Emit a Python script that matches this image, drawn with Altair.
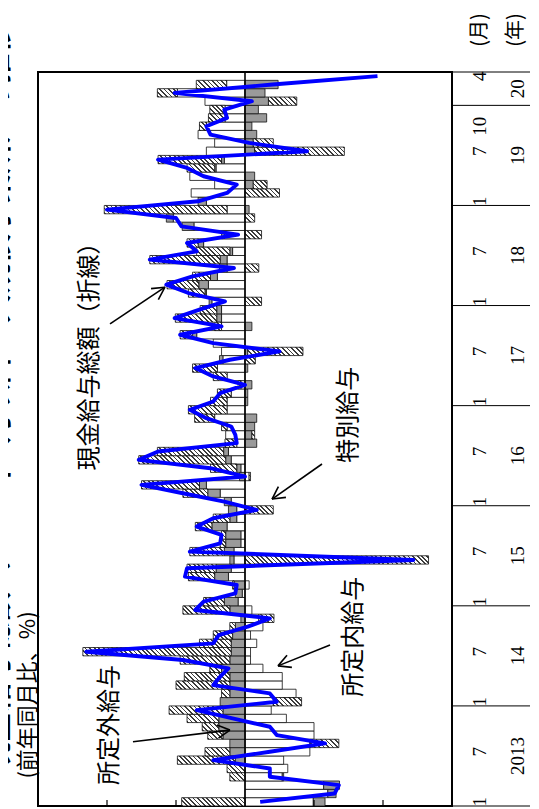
import math
import altair as alt
import pandas as pd

# ---------------- data (前年同月比, %, 寄与度) 2013-01 ... 2020-04 ----------------
# 所定内給与 contribution
W_vals = [
    -4.95, -6.0, -5.7, -2.7, -3.1, -2.8, -4.7, -4.7, -5.0, -5.0, -3.0, -1.9,   # 2013
    -2.05, -3.7, -2.7, -2.7, -1.3, -0.4, -0.4, -0.85, -0.4, -1.3, -1.0, -0.5,  # 2014
    0.5, 0.2, -0.3, 1.2, 1.0, 0.8, 0.8, 0.3, 0.3, 1.3, 0.6, 0.6,               # 2015
    1.0, 1.8, 2.8, -0.3, 0.3, 1.0, 1.2, 0.6, 1.4, 1.3, 2.2, 1.3,               # 2016
    1.3, 1.0, 0.3, 1.3, 2.0, 1.6, 1.7, 2.3, 3.5, 1.7, 1.7, 1.7,                # 2017
    2.4, 2.8, 2.65, 2.0, 1.3, 1.3, 0.9, 3.0, 1.5, 3.7, 5.2, 1.3,               # 2018
    2.8, 3.9, 2.2, 4.0, 2.1, 1.5, 2.8, 2.2, 3.4, 2.8, 1.45, 1.45,              # 2019
    2.9, 4.9, 1.33,                                                            # 2020
]
# 所定外給与 contribution
G_vals = [
    -0.85, -0.6, -1.15, -0.1, 0.0, 0.7, 1.1, 1.1, 1.6, 1.9, 1.9, 1.6,
    1.8, 1.1, 1.1, 1.1, 1.7, 1.1, 1.0, 1.0, 0.9, 0.7, 0.3, 1.1,
    1.0, 0.5, 0.8, 1.0, 1.1, 0.3, 0.7, 1.1, 1.1, 1.1, 0.5, 0.6,
    0.5, 0.9, 0.5, 0.4, 0.3, 0.4, 0.35, -0.85, -0.5, -0.7, -0.85, 0.0,
    -0.2, -0.2, -0.5, 0.0, -0.2, 0.25, -0.2, 0.0, 0.3, -0.5, 0.35, 0.35,
    0.2, 0.1, 0.7, 0.5, 0.55, 0.5, 0.2, 0.4, 0.2, 0.85, 0.5, -0.3,
    0.6, 0.0, -0.6, -0.7, 0.1, 0.2, -0.7, -0.6, -0.85, -0.5, -1.57, -0.97,
    -1.7, -1.45, -2.4,
]
# 特別給与 contribution
H_vals = [
    4.59, 0.0, 0.0, 1.1, 1.3, 4.2, 1.8, -2.1, 1.1, 1.2, 2.3, 3.9,
    -2.05, 0.6, 3.9, 3.3, 0.85, 3.6, 10.75, 2.3, 1.4, 0.4, -1.1, 3.4,
    1.5, 0.0, 0.1, 1.9, 2.1, -13.3, 2.5, 0.4, 0.3, 1.2, 1.2, -2.05,
    0.0, 1.8, 4.2, -0.1, 1.9, 6.3, 4.8, 0.85, -0.2, 0.4, 1.45, 2.8,
    1.2, 1.0, 0.2, 1.0, 1.8, -0.75, -4.0, 0.0, 0.9, 0.5, 3.0, 1.2,
    -1.2, 1.2, 2.3, 1.3, -1.0, 5.1, 2.4, 0.8, -1.2, 0.0, -0.7, 8.9,
    0.0, -2.5, -1.0, 0.0, 2.0, 4.6, -6.5, -1.45, 0.0, 0.5, 1.2, 1.1,
    -2.05, 1.45, 2.2,
]
# 現金給与総額 (line)
L_vals = [
    -1.1, -6.5, -6.8, -1.8, -1.8, 2.3, -1.8, -5.8, -2.3, -1.8, 0.9, 3.5,
    -2.3, -1.8, 2.3, 1.8, 1.2, 4.5, 11.5, 2.3, 1.9, -0.2, -1.8, 3.6,
    3.0, 0.7, 0.6, 4.35, 4.2, -12.2, 4.0, 1.8, 1.7, 3.5, 2.3, -0.85,
    1.5, 4.5, 7.5, 0.0, 2.5, 7.7, 6.3, 0.6, 0.7, 1.0, 2.8, 4.0,
    2.3, 1.8, 0.0, 2.3, 3.6, 1.1, -2.5, 2.3, 4.7, 1.7, 5.1, 3.3,
    1.45, 4.1, 5.7, 3.8, 0.8, 6.9, 3.5, 4.2, 0.5, 4.6, 5.0, 10.0,
    3.4, 1.3, 0.6, 3.0, 4.2, 6.3, -4.5, -0.3, 2.5, 2.8, 1.3, 1.5,
    -0.5, 5.1, -2.0, -9.6,
]

components = ["所定内給与", "所定外給与", "特別給与"]

# time-axis table (right side)
month_tick_idx = [0, 6, 12, 18, 24, 30, 36, 42, 48, 54, 60, 66, 72, 78, 81, 87]
month_tick_txt = ["1", "7", "1", "7", "1", "7", "1", "7", "1", "7", "1", "7", "1", "7", "10", "4"]
year_center_idx = [5.5, 17.5, 29.5, 41.5, 53.5, 65.5, 77.5, 85.5]
year_txt = ["2013", "14", "15", "16", "17", "18", "19", "20"]
year_bounds = [-0.5, 11.5, 23.5, 35.5, 47.5, 59.5, 71.5, 83.5, 87.5]

value_ticks = [-10, -5, 5, 10]

# annotation labels (value, month index)
ann_txt = ["現金給与総額（折線）", "特別給与", "所定内給与", "所定外給与"]
ann_val = [11.2, -7.5, -7.9, 9.8]
ann_idx = [54.1, 46.4, 19.8, 9.2]
arrow_from_val = [9.78, -5.58, -6.16, 8.12]
arrow_from_idx = [57.3, 40.5, 18.8, 7.2]
arrow_to_val = [5.8, -1.96, -2.39, 1.09]
arrow_to_idx = [61.7, 36.3, 16.3, 8.6]

# ---------------- layout constants ----------------
W_PX, H_PX = 414, 734
VMIN, VMAX = -15, 15
N = len(L_vals)
PXU = W_PX / (VMAX - VMIN)      # px per %
PYU = H_PX / N                  # px per month

xs = alt.Scale(domain=[VMIN, VMAX], reverse=True, nice=False, zero=False)
ys = alt.Scale(domain=[-0.5, N - 0.5], nice=False, zero=False)

# ---------------- stacked bars (diverging stack) ----------------
rows = []
for i in range(len(W_vals)):
    pos, neg = 0.0, 0.0
    for comp, v in zip(components, (W_vals[i], G_vals[i], H_vals[i])):
        if v == 0:
            continue
        if v > 0:
            s, e = pos, pos + v
            pos = e
        else:
            s, e = neg, neg + v
            neg = e
        rows.append(dict(idx=i, comp=comp, v=v, x0=s, x1=e, y0=i - 0.5, y1=i + 0.5))
bars = pd.DataFrame(rows)
bars_wg = bars[bars.comp != "特別給与"]
bars_h = bars[bars.comp == "特別給与"]


def hatch(w, h, period=4.6, duty=0.38, dark="#3c3c3c", light="#ffffff"):
    s = (1 + h / w) / (1 + (h / w) ** 2)
    span = w + h
    n = span / period
    stops = []
    k = 0
    while k / n < 1:
        a = k / n
        b = min((k + duty) / n, 1)
        c = min((k + 1) / n, 1)
        stops += [
            {"offset": round(a, 4), "color": dark},
            {"offset": round(b, 4), "color": dark},
            {"offset": round(b, 4), "color": light},
            {"offset": round(c, 4), "color": light},
        ]
        k += 1
    return {"gradient": "linear", "x1": 0, "y1": 1, "x2": round(s, 5),
            "y2": round(1 - s * h / w, 5), "stops": stops}


conds = []
for _, r in bars_h.iterrows():
    w = abs(r.x1 - r.x0) * PXU
    conds.append({"test": f"datum.idx == {int(r.idx)}", "value": hatch(w, PYU)})

enc_bar = dict(
    x=alt.X("x0:Q", scale=xs, axis=None), x2="x1:Q",
    y=alt.Y("y0:Q", scale=ys, axis=None), y2="y1:Q",
)
layer_wg = alt.Chart(bars_wg).mark_rect(stroke="#111111", strokeWidth=0.8).encode(
    fill=alt.Fill("comp:N", scale=alt.Scale(domain=components[:2], range=["#ffffff", "#9a9a9a"]),
                  legend=None),
    **enc_bar,
)
layer_h = alt.Chart(bars_h).mark_rect(stroke="#111111", strokeWidth=0.8).encode(
    fill=alt.FillValue("#bbbbbb", condition=conds),
    **enc_bar,
)

# zero line and inward value ticks
zero = alt.Chart(pd.DataFrame({"v": [0]})).mark_rule(color="black", strokeWidth=1.6).encode(
    x=alt.X("v:Q", scale=xs, axis=None), y=alt.value(0), y2=alt.value(H_PX))
ticks = alt.Chart(pd.DataFrame({"v": value_ticks})).mark_rule(color="black", strokeWidth=1.2).encode(
    x=alt.X("v:Q", scale=xs, axis=None), y=alt.value(H_PX - 6), y2=alt.value(H_PX))

# total line
line_df = pd.DataFrame({"idx": list(range(N)), "L": L_vals})
line = alt.Chart(line_df).mark_line(color="#0000ff", strokeWidth=3.9, strokeJoin="round").encode(
    x=alt.X("L:Q", scale=xs, axis=None), y=alt.Y("idx:Q", scale=ys, axis=None), order="idx:Q")

# annotations
ann_df = pd.DataFrame({"t": ann_txt, "v": ann_val, "i": ann_idx})
ann = alt.Chart(ann_df).mark_text(angle=270, fontSize=24, font="Noto Sans CJK JP",
                                   align="center", baseline="middle", color="black").encode(
    x=alt.X("v:Q", scale=xs, axis=None), y=alt.Y("i:Q", scale=ys, axis=None), text="t:N")

seg = []
for k in range(len(arrow_to_val)):
    tx, ty = -arrow_to_val[k] * PXU, -arrow_to_idx[k] * PYU
    sx, sy = -arrow_from_val[k] * PXU, -arrow_from_idx[k] * PYU
    seg.append(dict(a=arrow_from_val[k], b=arrow_from_idx[k], c=arrow_to_val[k], d=arrow_to_idx[k]))
    dx, dy = sx - tx, sy - ty
    ln = math.hypot(dx, dy)
    ux, uy = dx / ln, dy / ln
    for ang in (28, -28):
        r = math.radians(ang)
        hx = tx + 14 * (ux * math.cos(r) - uy * math.sin(r))
        hy = ty + 14 * (ux * math.sin(r) + uy * math.cos(r))
        seg.append(dict(a=-hx / PXU, b=-hy / PYU, c=arrow_to_val[k], d=arrow_to_idx[k]))
arrows = alt.Chart(pd.DataFrame(seg)).mark_rule(color="black", strokeWidth=1.6).encode(
    x=alt.X("a:Q", scale=xs, axis=None), y=alt.Y("b:Q", scale=ys, axis=None), x2="c:Q", y2="d:Q")

# right-side time table
seps = alt.Chart(pd.DataFrame({"b": year_bounds})).mark_rule(color="black", strokeWidth=1).encode(
    y=alt.Y("b:Q", scale=ys, axis=None), x=alt.value(W_PX), x2=alt.value(W_PX + 110))
mlab = alt.Chart(pd.DataFrame({"i": month_tick_idx, "t": month_tick_txt})).mark_text(
    angle=270, fontSize=19, font="Liberation Serif", align="center", baseline="middle").encode(
    y=alt.Y("i:Q", scale=ys, axis=None), x=alt.value(W_PX + 28), text="t:N")
ylab = alt.Chart(pd.DataFrame({"i": year_center_idx, "t": year_txt})).mark_text(
    angle=270, fontSize=19, font="Liberation Serif", align="center", baseline="middle").encode(
    y=alt.Y("i:Q", scale=ys, axis=None), x=alt.value(W_PX + 66), text="t:N")
heads = alt.Chart(pd.DataFrame({"t": ["(月)", "(年)"], "xp": [W_PX + 28, W_PX + 64]})).mark_text(
    angle=270, fontSize=20, font="Noto Sans CJK JP", align="center", baseline="middle").encode(
    x=alt.X("xp:Q", scale=None, axis=None), y=alt.value(-42), text="t:N")

# left titles (the reference shows the main title partly cut at the page edge)
ttl = alt.Chart(pd.DataFrame({"t": ["現金給与総額（2013年1月以降：大規模事業所）の推移"]})).mark_text(
    angle=270, fontSize=30, font="Noto Sans CJK JP", fontWeight="bold", align="center",
    baseline="middle").encode(x=alt.value(-40), y=alt.value(326), text="t:N")
sub = alt.Chart(pd.DataFrame({"t": ["(前年同月比、%)"]})).mark_text(
    angle=270, fontSize=22, font="Noto Sans CJK JP", align="center", baseline="middle").encode(
    x=alt.value(-10), y=alt.value(623), text="t:N")

chart = alt.layer(layer_wg, layer_h, zero, ticks, line, arrows, ann, seps, mlab, ylab, heads, ttl, sub).properties(
    width=W_PX, height=H_PX,
    padding={"left": 30, "top": 64, "right": 78, "bottom": 2},
    autosize="none",
).configure_view(stroke="black", strokeWidth=2)

chart.save("out.html", embed_options={"renderer": "svg", "actions": False})
